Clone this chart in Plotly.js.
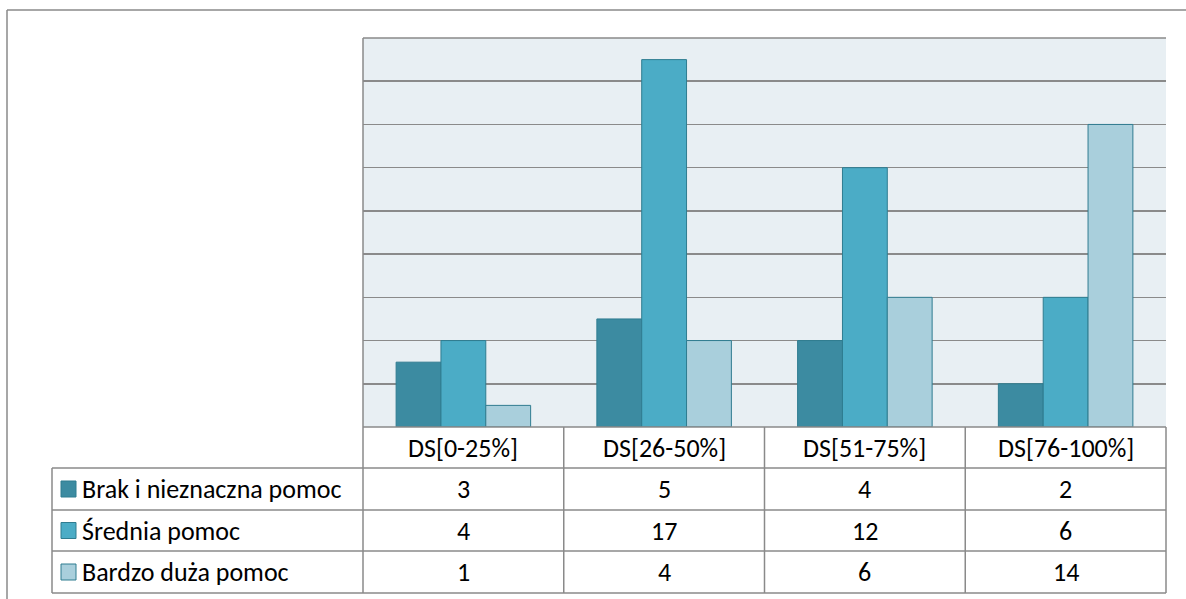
<!DOCTYPE html>
<html>
<head>
<meta charset="utf-8">
<script src="https://cdn.plot.ly/plotly-3.0.1.min.js"></script>
<style>html,body{margin:0;padding:0;background:#fff;}</style>
</head>
<body>
<div id="chart" style="width:1186px;height:599px"></div>
<script>
// ---- data ----
const categories = ['DS[0-25%]', 'DS[26-50%]', 'DS[51-75%]', 'DS[76-100%]'];
const seriesNames = ['Brak i nieznaczna pomoc', 'Średnia pomoc', 'Bardzo duża pomoc'];
const brakValues = [3, 5, 4, 2];
const sredniaValues = [4, 17, 12, 6];
const bardzoValues = [1, 4, 6, 14];

// ---- style / layout ----
const seriesColors = ['#3c8ba1', '#4bacc6', '#a9cfdc'];
const edgeColor = '#2f7c90';
const lineColor = '#8a8a8a';
const FONT = 'Carlito, Calibri, Lato, sans-serif';
const FSIZE = 26;
const W = 1186, H = 599;
const L = 363, R = 1166, T = 38, B = 427;
const rowEdges = [427, 468, 510, 551, 593];
const legendLeft = 52;

const px2x = p => (p - L) / (R - L);
const px2y = p => (B - p) / (B - T);

const allValues = [brakValues, sredniaValues, bardzoValues];
const idx = categories.map((c, i) => i);

const traces = allValues.map((vals, s) => ({
  type: 'bar',
  name: seriesNames[s],
  x: idx,
  y: vals,
  marker: {color: seriesColors[s], line: {color: edgeColor, width: 1}},
  hoverinfo: 'x+y+name',
  showlegend: false
}));

const shapes = [];
const annotations = [];
function hline(y, x0, x1) {
  shapes.push({type: 'line', xref: 'paper', yref: 'paper', x0: px2x(x0), x1: px2x(x1), y0: px2y(y), y1: px2y(y),
    line: {color: lineColor, width: 1.5}});
}
function vline(x, y0, y1) {
  shapes.push({type: 'line', xref: 'paper', yref: 'paper', x0: px2x(x), x1: px2x(x), y0: px2y(y0), y1: px2y(y1),
    line: {color: lineColor, width: 1.5}});
}
// outer frame
hline(10, 7, W + 5);
vline(7, 10, H + 5);
// top of plot
hline(T, L, R);
// table rows
hline(rowEdges[0], L, R);
for (let r = 1; r < rowEdges.length; r++) hline(rowEdges[r], legendLeft, R);
// table columns
vline(L, T, rowEdges[rowEdges.length - 1]);
vline(legendLeft, rowEdges[1], rowEdges[rowEdges.length - 1]);
const colW = (R - L) / categories.length;
for (let c = 1; c <= categories.length; c++) vline(L + c * colW, rowEdges[0], rowEdges[rowEdges.length - 1]);

// header text
categories.forEach((cat, i) => {
  annotations.push({xref: 'x', yref: 'paper', x: i, y: px2y((rowEdges[0] + rowEdges[1]) / 2),
    text: cat, showarrow: false, xanchor: 'center', yanchor: 'middle',
    font: {family: FONT, size: FSIZE, color: '#000'}});
});
// values + legend rows
allValues.forEach((vals, s) => {
  const yc = (rowEdges[s + 1] + rowEdges[s + 2]) / 2;
  vals.forEach((v, i) => {
    annotations.push({xref: 'x', yref: 'paper', x: i, y: px2y(yc),
      text: String(v), showarrow: false, xanchor: 'center', yanchor: 'middle',
      font: {family: FONT, size: FSIZE, color: '#000'}});
  });
  shapes.push({type: 'rect', xref: 'paper', yref: 'paper',
    x0: px2x(61), x1: px2x(76), y0: px2y(yc - 8), y1: px2y(yc + 8),
    fillcolor: seriesColors[s], line: {color: edgeColor, width: 1}});
  annotations.push({xref: 'paper', yref: 'paper', x: px2x(80), y: px2y(yc),
    text: seriesNames[s], showarrow: false, xanchor: 'left', yanchor: 'middle',
    font: {family: FONT, size: FSIZE, color: '#000'}});
});

const layout = {
  width: W, height: H,
  margin: {l: L, r: W - R, t: T, b: H - B, pad: 0},
  paper_bgcolor: '#ffffff',
  plot_bgcolor: '#e8eff3',
  barmode: 'group',
  bargap: 0.33,
  bargroupgap: 0,
  showlegend: false,
  xaxis: {
    type: 'linear', range: [-0.5, categories.length - 0.5],
    showticklabels: false, ticks: '', showgrid: false, zeroline: false,
    showline: false, fixedrange: true
  },
  yaxis: {
    range: [0, 18], dtick: 2, tick0: 0,
    showticklabels: false, ticks: '', showgrid: true,
    gridcolor: lineColor, gridwidth: 1.5, zeroline: false,
    showline: false, fixedrange: true
  },
  shapes: shapes,
  annotations: annotations
};

Plotly.newPlot('chart', traces, layout, {displayModeBar: false, staticPlot: true});
</script>
</body>
</html>
